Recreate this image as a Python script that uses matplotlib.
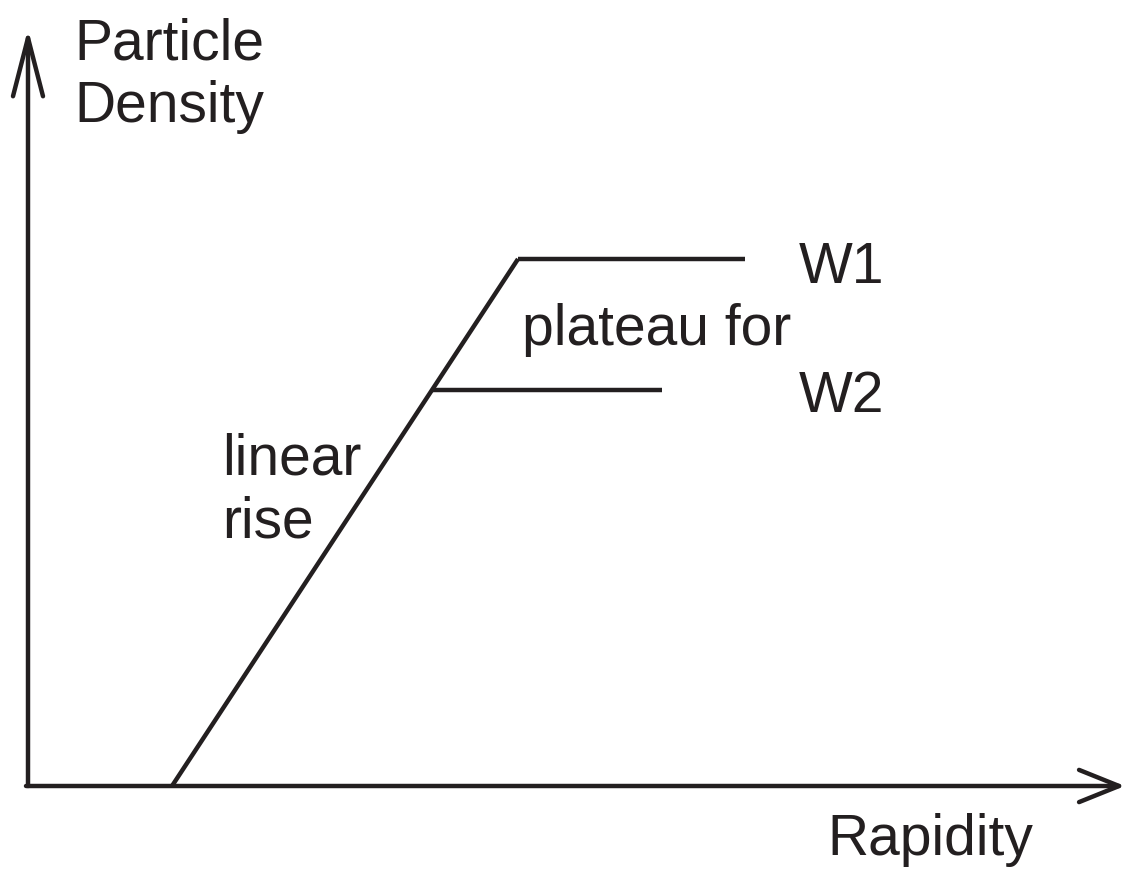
import matplotlib
matplotlib.use("Agg")
import matplotlib.pyplot as plt

plt.rcParams['font.family'] = ['Liberation Sans', 'DejaVu Sans']

# schematic data (arbitrary units, origin at the axes corner)
rise_x = [1.44, 4.90]
rise_y = [0.0, 5.27]
w1_x = [4.90, 7.17]
w1_y = [5.27, 5.27]
w2_x = [4.04, 6.34]
w2_y = [3.96, 3.96]

col = '#231f20'
lw = 3.2
fs = 41

fig = plt.figure(figsize=(11.38, 8.70), dpi=100)
ax = fig.add_axes([0, 0, 1, 1])
ax.set_xlim(-0.28, 11.10)
ax.set_ylim(-0.83, 7.87)
ax.axis('off')

# axes with open arrowheads
ax.annotate('', xy=(0, 7.57), xytext=(0, 0),
            arrowprops=dict(arrowstyle='->,head_length=2.1,head_width=0.54',
                            lw=lw, color=col, mutation_scale=20, shrinkA=0, shrinkB=0))
ax.annotate('', xy=(10.97, 0), xytext=(-0.02, 0),
            arrowprops=dict(arrowstyle='->,head_length=1.44,head_width=0.58',
                            lw=lw, color=col, mutation_scale=20, shrinkA=0, shrinkB=0))

ax.plot(rise_x, rise_y, color=col, lw=lw, solid_capstyle='butt')
ax.plot(w1_x, w1_y, color=col, lw=lw, solid_capstyle='butt')
ax.plot(w2_x, w2_y, color=col, lw=lw, solid_capstyle='butt')

ax.text(0.46, 7.27, 'Particle', fontsize=fs, color=col, va='baseline')
ax.text(0.46, 6.65, 'Density', fontsize=fs, color=col, va='baseline')
ax.text(1.94, 3.12, 'linear', fontsize=fs, color=col, va='baseline')
ax.text(1.94, 2.49, 'rise', fontsize=fs, color=col, va='baseline')
ax.text(4.94, 4.42, 'plateau for', fontsize=fs, color=col, va='baseline')
ax.text(7.71, 5.04, 'W1', fontsize=fs, color=col, va='baseline')
ax.text(7.71, 3.75, 'W2', fontsize=fs, color=col, va='baseline')
ax.text(7.99, -0.68, 'Rapidity', fontsize=fs, color=col, va='baseline')

fig.savefig('out.png', dpi=100)
